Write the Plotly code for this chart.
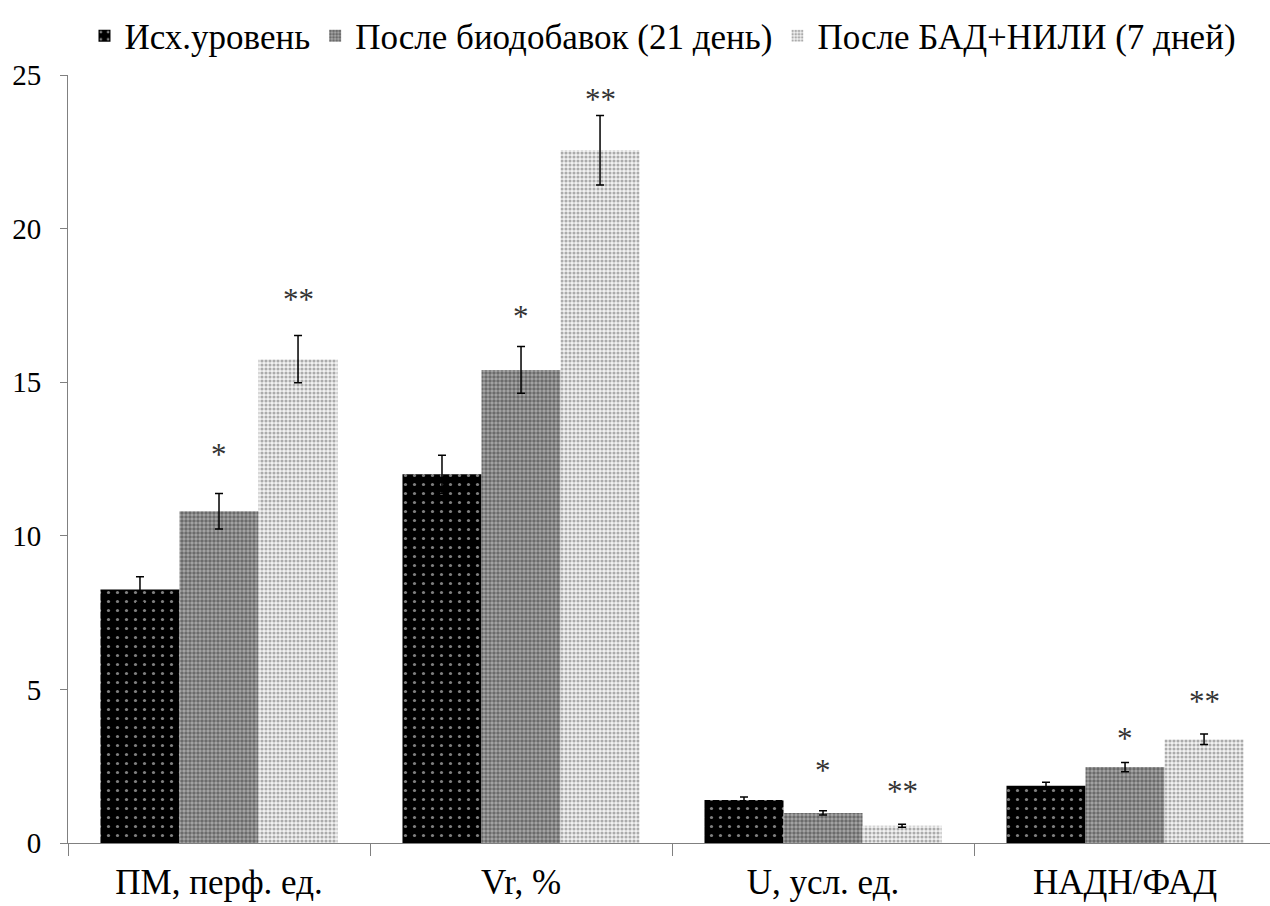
import plotly.graph_objects as go

# Показатели и группы
categories = ["ПМ, перф. ед.", "Vr, %", "U, усл. ед.", "НАДН/ФАД"]
series_names = ["Исх.уровень", "После биодобавок (21 день)", "После БАД+НИЛИ (7 дней)"]

# Средние значения
baseline = [8.25, 12.0, 1.40, 1.86]
after_supplements = [10.8, 15.4, 0.98, 2.47]
after_supplements_lili = [15.75, 22.55, 0.56, 3.38]

# Ошибки средних
baseline_err = [0.42, 0.62, 0.10, 0.12]
after_supplements_err = [0.58, 0.76, 0.07, 0.15]
after_supplements_lili_err = [0.77, 1.13, 0.05, 0.17]

# Уровни значков достоверности
star_single = ["*", "*", "*", "*"]
star_double = ["**", "**", "**", "**"]
star_single_y = [12.7, 17.2, 2.44, 3.48]
star_double_y = [17.77, 24.28, 1.73, 4.66]

SERIF = "Liberation Serif"
BARGAP = 0.215

styles = [
    dict(color="black", pattern=dict(shape=".", bgcolor="black", fgcolor="white",
                                    size=9, solidity=0.1)),
    dict(color="#808080", pattern=dict(shape=".", bgcolor="#a8a8a8", fgcolor="#2e2e2e",
                                      size=4, solidity=0.6)),
    dict(color="#c4c4c4", pattern=dict(shape=".", bgcolor="#f2f2f2", fgcolor="#646464",
                                      size=4, solidity=0.48)),
]

values = [baseline, after_supplements, after_supplements_lili]
errors = [baseline_err, after_supplements_err, after_supplements_lili_err]

fig = go.Figure()
for name, vals, errs, st in zip(series_names, values, errors, styles):
    fig.add_trace(go.Bar(
        name=name,
        x=categories,
        y=vals,
        marker=dict(color=st["color"], pattern=st["pattern"], line=dict(width=0)),
        error_y=dict(type="data", array=errs, visible=True,
                     color="black", thickness=1.5, width=4),
    ))

# Значки достоверности над 2-й и 3-й группой столбцов
bw = (1 - BARGAP) / 3
annotations = []
for i in range(len(categories)):
    annotations.append(dict(x=i, y=star_single_y[i], xref="x", yref="y",
                            text=star_single[i], showarrow=False,
                            font=dict(family=SERIF, size=31, color="#333333"),
                            yanchor="middle", yshift=-2))
    annotations.append(dict(x=i + bw, y=star_double_y[i], xref="x", yref="y",
                            text=star_double[i], showarrow=False,
                            font=dict(family=SERIF, size=31, color="#333333"),
                            yanchor="middle", yshift=-2))

fig.update_layout(
    width=1270, height=906,
    margin=dict(l=68, r=0, t=75, b=63, autoexpand=False),
    paper_bgcolor="white", plot_bgcolor="white",
    barmode="group", bargap=BARGAP, bargroupgap=0,
    font=dict(family=SERIF, color="black"),
    legend=dict(orientation="h", x=0.495, xanchor="center",
                y=1 - 36 / 906, yanchor="middle", yref="container",
                font=dict(family=SERIF, size=35, color="black"),
                itemclick=False, traceorder="normal"),
    annotations=annotations,
    showlegend=True,
)

fig.update_xaxes(
    range=[-0.5, 3.48],
    showline=True, linecolor="#808080", linewidth=1,
    ticks="outside", tickson="boundaries", ticklen=12, tickcolor="#808080",
    tickfont=dict(family=SERIF, size=35, color="black"),
    ticklabelstandoff=8,
    showgrid=False, zeroline=False,
)
fig.update_yaxes(
    range=[0, 25], tickvals=[0, 5, 10, 15, 20, 25],
    showline=True, linecolor="#808080", linewidth=1,
    ticks="outside", ticklen=7, tickcolor="#808080",
    tickfont=dict(family=SERIF, size=29, color="black"),
    ticklabelstandoff=13,
    showgrid=False, zeroline=False,
)

fig.write_html("out.html")
